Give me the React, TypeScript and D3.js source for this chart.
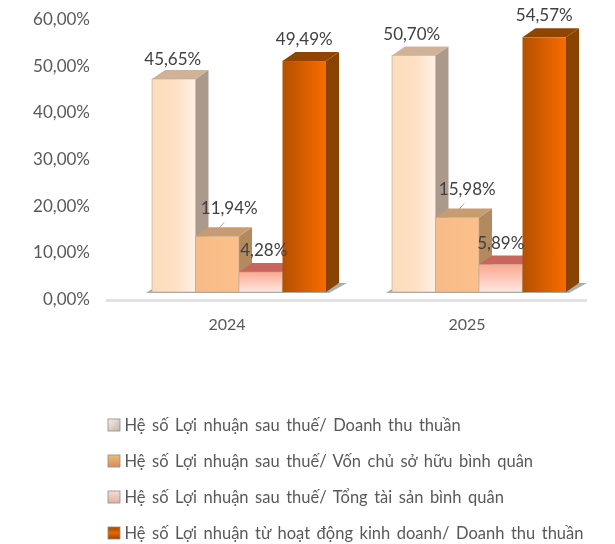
import React from "react";
import * as d3 from "d3";

const years = ["2024", "2025"];
const seriesNames = [
  "Hệ số Lợi nhuận sau thuế/ Doanh thu thuần",
  "Hệ số Lợi nhuận sau thuế/ Vốn chủ sở hữu bình quân",
  "Hệ số Lợi nhuận sau thuế/ Tổng tài sản bình quân",
  "Hệ số Lợi nhuận từ hoạt động kinh doanh/ Doanh thu thuần",
];
const values2024 = [45.65, 11.94, 4.28, 49.49];
const values2025 = [50.7, 15.98, 5.89, 54.57];
const valueLabels2024 = ["45,65%", "11,94%", "4,28%", "49,49%"];
const valueLabels2025 = ["50,70%", "15,98%", "5,89%", "54,57%"];
const tickValues = [0, 10, 20, 30, 40, 50, 60];
const tickLabels = ["0,00%", "10,00%", "20,00%", "30,00%", "40,00%", "50,00%", "60,00%"];

const W = 615, H = 544;
const DX = 13, DY = 9;
const FONT = "Lato, 'Open Sans', sans-serif";
const TEXT = "#404040";
const MUTED = "#595959";

const sideColors = ["#ab9a8b", "#b38a60", "#c9705f", "#8a4200"];
const topColors = ["#d0b297", "#c99c70", "#c9655b", "#8f4500"];

export default function App() {
  const y = d3.scaleLinear().domain([0, 60]).range([292, 12]);
  const x0 = d3.scaleBand<string>().domain(years).range([119, 599]).paddingInner(0.275).paddingOuter(0.1375);
  const x1 = d3.scaleBand<number>().domain([0, 1, 2, 3]).range([0, x0.bandwidth()]);
  const legendY = d3.scalePoint<string>().domain(seriesNames).range([425, 533]);
  const rows = [
    { year: "2024", values: values2024, labels: valueLabels2024, dx: [-1, 12, 3, 0], dy: [-20, -28, -22, -22] },
    { year: "2025", values: values2025, labels: valueLabels2025, dx: [-2, 10, 0, 0], dy: [-21, -28, -21, -22] },
  ];
  const bw = x1.bandwidth();
  return (
    <svg width={W} height={H} viewBox={`0 0 ${W} ${H}`} style={{ position: "absolute", left: 0, top: 0, background: "#fff" }}>
      <defs>
        <linearGradient id="g0"><stop offset="0" stopColor="#fbdcbc" /><stop offset="0.5" stopColor="#fedfc2" /><stop offset="1" stopColor="#fff0e5" /></linearGradient>
        <linearGradient id="g1"><stop offset="0" stopColor="#f6bb88" /><stop offset="1" stopColor="#fdc08a" /></linearGradient>
        <linearGradient id="g2" x1="0" y1="0" x2="0" y2="1"><stop offset="0" stopColor="#fba98f" /><stop offset="1" stopColor="#fde7e2" /></linearGradient>
        <linearGradient id="g3"><stop offset="0" stopColor="#b35000" /><stop offset="1" stopColor="#f96b00" /></linearGradient>
        <linearGradient id="l0" x1="0" y1="0" x2="1" y2="1"><stop offset="0" stopColor="#f6efe8" /><stop offset="1" stopColor="#c4b4a4" /></linearGradient>
        <linearGradient id="l1" x1="0" y1="0" x2="0" y2="1"><stop offset="0" stopColor="#e8bf70" /><stop offset="1" stopColor="#d98a5e" /></linearGradient>
        <linearGradient id="l2" x1="0" y1="0" x2="0" y2="1"><stop offset="0" stopColor="#f8dcd2" /><stop offset="1" stopColor="#e0b0a4" /></linearGradient>
        <linearGradient id="l3" x1="0" y1="0" x2="0" y2="1"><stop offset="0" stopColor="#a04a00" /><stop offset="0.5" stopColor="#e86800" /><stop offset="1" stopColor="#9a4400" /></linearGradient>
        <filter id="soft" x="-5%" y="-5%" width="110%" height="110%"><feGaussianBlur stdDeviation="0.45" /></filter>
      </defs>

      <rect x={106} y={299} width={481} height={3} fill="#e2e2e2" />

      {rows.map((r) => {
        const gx = x0(r.year)!;
        const last = gx + x1(3)! + bw;
        return (
          <g key={r.year} filter="url(#soft)">
            <path d={`M${gx - 6},${y(0) + 1}L${gx},${y(0) - 3}L${last},${y(0) - 3}L${last + DX},${y(0) - DY}L${last + DX + 8},${y(0) - DY}L${last + 3},${y(0) + 1}Z`} fill="#a8aeab" />
            {r.values.map((v, i) => {
              const bx = gx + x1(i)!;
              const top = y(v);
              const base = y(0);
              return (
                <g key={i}>
                  <path d={`M${bx + bw},${top}L${bx + bw + DX},${top - DY}L${bx + bw + DX},${base - DY}L${bx + bw},${base}Z`} fill={sideColors[i]} />
                  <path d={`M${bx},${top}L${bx + DX},${top - DY}L${bx + bw + DX},${top - DY}L${bx + bw},${top}Z`} fill={topColors[i]} />
                  <rect x={bx} y={top} width={bw} height={base - top} fill={`url(#g${i})`} stroke="#b9a594" strokeOpacity={i === 3 ? 0 : 0.7} strokeWidth={0.8} />
                </g>
              );
            })}
          </g>
        );
      })}

      {rows.map((r) => {
        const bx = x0(r.year)! + x1(1)!;
        const top = y(r.values[1]);
        return <line key={r.year} x1={bx + bw / 2 - 4} y1={top - 2} x2={bx + bw / 2 + 7} y2={top - 14} stroke="#a6a6a6" strokeWidth={1} />;
      })}

      <g fontFamily={FONT} fill={TEXT} filter="url(#soft)">
        {tickValues.map((t, i) => (
          <text key={t} x={90} y={y(t) + 7} dy="0.35em" textAnchor="end" fontSize={17} fill={MUTED}>{tickLabels[i]}</text>
        ))}
        {years.map((yr) => (
          <text key={yr} x={x0(yr)! + x0.bandwidth() / 2 - 12} y={324} dy="0.35em" textAnchor="middle" fontSize={16} fill={MUTED}>{yr}</text>
        ))}
        {rows.map((r) =>
          r.values.map((v, i) => (
            <text key={r.year + i} x={x0(r.year)! + x1(i)! + bw / 2 + r.dx[i]} y={y(v) + r.dy[i]} dy="0.35em" textAnchor="middle" fontSize={17}>{r.labels[i]}</text>
          ))
        )}
        {seriesNames.map((n, i) => (
          <g key={n}>
            <rect x={108} y={legendY(n)! - 6} width={12} height={12} fill={`url(#l${i})`} stroke="#8c8c8c" strokeWidth={0.8} />
            <text x={124.5} y={legendY(n)!} dy="0.35em" fontSize={16.5} wordSpacing={2.3} fill={MUTED}>{n}</text>
          </g>
        ))}
      </g>
    </svg>
  );
}
